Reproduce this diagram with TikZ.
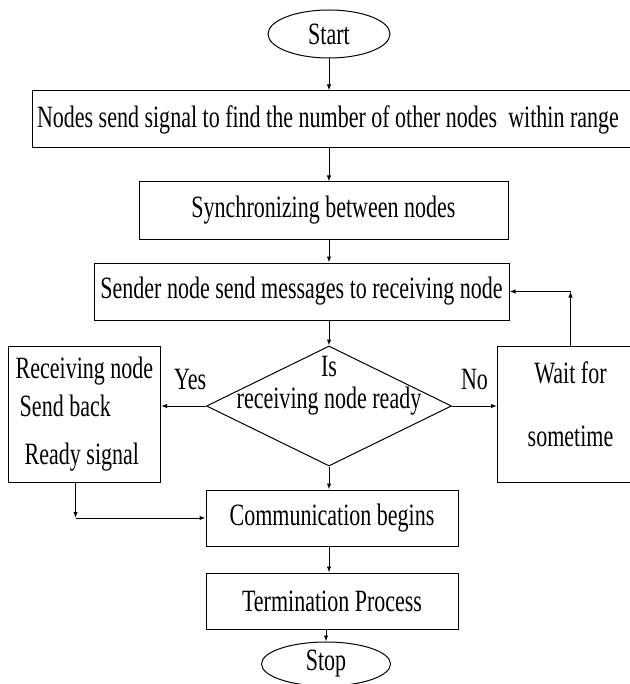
\documentclass[tikz,border=0pt]{standalone}
\usepackage{fontspec}
\setmainfont{Liberation Serif}[FakeStretch=0.71]
\usetikzlibrary{arrows.meta,positioning,shapes.geometric}

\begin{document}
\begin{tikzpicture}[node distance=12pt,
  every node/.style={font=\fontsize{15.5pt}{17pt}\selectfont, align=center, inner sep=0pt},
  process/.style={draw, rectangle, line width=0.5pt, minimum height=28.5pt},
  terminal/.style={draw, ellipse, line width=0.5pt, minimum width=61pt, minimum height=24pt},
  flow/.style={-{Latex[length=3pt,width=2.2pt]}, line width=0.5pt}]
  \useasboundingbox (0,0) rectangle (314.5pt,-342pt);

  % main column
  \node[terminal] (start) at (164.5pt,-17pt) {Start};
  \node[process, inner xsep=2.5pt, below=16pt of start, xshift=14pt] (scan) {\makebox[320pt][l]{Nodes send signal to find the number of other nodes\ \ within range}};
  \node[process, minimum width=184.5pt, below=16.5pt of scan, xshift=-16.75pt] (sync) {Synchronizing between nodes};
  \node[process, minimum width=207.5pt, below=11.5pt of sync, xshift=-11pt] (send) {Sender node send messages to receiving node};
  \node[draw, diamond, line width=0.5pt, minimum width=122.5pt, minimum height=60pt, below=12.5pt of send, xshift=13.75pt] (ready) {};
  \node[yshift=10pt] (readytxt) at (ready) {Is\\[-1pt]receiving node ready};
  \node[process, minimum width=126pt, minimum height=28pt, below=11.5pt of ready, xshift=1.5pt] (comm) {Communication begins};
  \node[process, minimum width=126pt, minimum height=28pt, below=13pt of comm] (term) {Termination Process};
  \node[terminal, minimum width=64.5pt, minimum height=22pt, below=6pt of term, xshift=-3pt] (stop) {Stop};

  % side boxes
  \node[process, minimum width=76pt, minimum height=68pt, align=left, left=22.5pt of ready, yshift=-4pt] (recv) {Receiving node\\[2pt]\hspace*{2pt}Send back\\[7pt]\hspace*{4.5pt}Ready signal};
  \node[process, minimum width=73pt, minimum height=68pt, text depth=10pt, right=22.5pt of ready, yshift=-4pt] (wait) {Wait for\\[14.5pt]sometime};

  \coordinate (waitturn) at (wait.north |- send.east);
  \coordinate (recvdrop) at ([xshift=-4.5pt]recv.south);
  \coordinate (recvturn) at (recvdrop |- comm.west);

  % arrows
  \draw[flow] (start.south) -- (start.south |- scan.north);
  \draw[flow] (start |- scan.south) -- (start |- sync.north);
  \draw[flow] (start |- sync.south) -- (start |- send.north);
  \draw[flow] (start |- send.south) -- (ready.north);
  \draw[flow] (ready.west) -- node[above=8pt, pos=0.35] (yes) {Yes} (ready.west -| recv.east);
  \draw[flow] (ready.east) -- node[above=8pt] (no) {No} (ready.east -| wait.west);
  \draw[flow] (wait.north) -- (waitturn);
  \draw[flow] (waitturn) -- (send.east);
  \draw[flow] (ready.south) -- (ready.south |- comm.north);
  \draw[flow] (recvdrop) -- (recvturn);
  \draw[flow] (recvturn) -- (comm.west);
  \draw[flow] (start |- comm.south) -- (start |- term.north);
  \draw[flow] (stop.north |- term.south) -- (stop.north);
\end{tikzpicture}
\end{document}
